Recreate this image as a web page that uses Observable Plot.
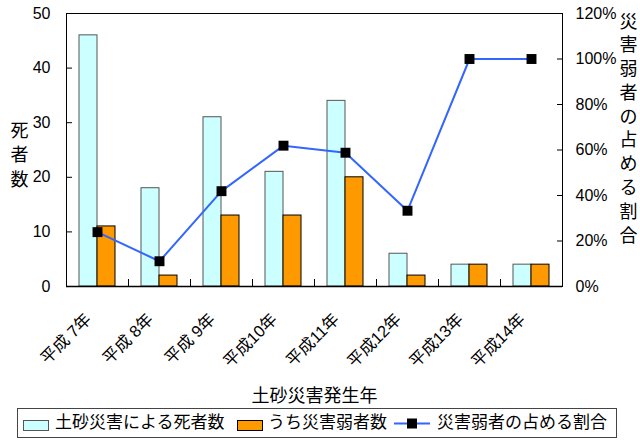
<!DOCTYPE html>
<html>
<head>
<meta charset="utf-8">
<script src="https://cdn.jsdelivr.net/npm/d3@7"></script>
<script src="https://cdn.jsdelivr.net/npm/@observablehq/plot@0.6"></script>
<style>
  html, body { margin: 0; padding: 0; background: #fff; }
  #wrap { position: relative; width: 640px; height: 441px; overflow: hidden; }
  #legend { position: absolute; left: 17px; top: 408px; width: 598px; height: 28px; border: 1px solid #444;
    font-family: "Liberation Sans", "Noto Sans CJK JP", sans-serif; font-size: 17px; color: #000; }
  #legend .it { position: absolute; top: 0; height: 28px; line-height: 28px; white-space: nowrap; }
  #legend .sw { position: absolute; top: 11px; width: 24px; height: 9px; }
</style>
</head>
<body>
<div id="wrap"></div>
<script>
// --- data ---
const years = ["平成 7年", "平成 8年", "平成 9年", "平成10年", "平成11年", "平成12年", "平成13年", "平成14年"];
const deaths = [46, 18, 31, 21, 34, 6, 4, 4];          // 土砂災害による死者数
const vulnerable = [11, 2, 13, 13, 20, 2, 4, 4];       // うち災害弱者数
const ratioPct = [23.9, 11.1, 41.9, 61.9, 58.8, 33.3, 100, 100]; // 災害弱者の占める割合 (%)
const leftTicks = [0, 10, 20, 30, 40, 50];
const rightTicks = [0, 20, 40, 60, 80, 100, 120];
const seriesNames = ["土砂災害による死者数", "うち災害弱者数", "災害弱者の占める割合"];

const yMax = 50, rMax = 120;
const toY = p => p * yMax / rMax;

const rows = years.map((y, i) => ({year: y, deaths: deaths[i], vul: vulnerable[i], ratio: ratioPct[i]}));

const cyan = "#ccffff", orange = "#ff9900", blue = "#3366ff";
const font = '"Liberation Sans", "Noto Sans CJK JP", sans-serif';

const chart = Plot.plot({
  width: 640,
  height: 404,
  marginTop: 13,
  marginBottom: 118,
  marginLeft: 66,
  marginRight: 78,
  style: {fontFamily: font, fontSize: "16px", color: "#000", background: "#fff", overflow: "visible"},
  x: {domain: years, padding: 0, axis: null},
  y: {domain: [0, yMax]},
  marks: [
    Plot.barY(rows, {x: "year", y: "deaths", fill: cyan, stroke: "#555", strokeWidth: 1, insetLeft: 13, insetRight: 31}),
    Plot.barY(rows, {x: "year", y: "vul", fill: orange, stroke: "#000", strokeWidth: 1, insetLeft: 31, insetRight: 13}),
    Plot.frame({stroke: "#000", strokeWidth: 1}),
    Plot.ruleY([0], {stroke: "#000", strokeWidth: 1.5}),
    // inward ticks, left axis
    Plot.tickY(leftTicks, {y: d => d, x: () => years[0], insetRight: 56, stroke: "#000"}),
    // inward ticks, right axis
    Plot.tickY(rightTicks, {y: d => toY(d), x: () => years[years.length - 1], insetLeft: 57, stroke: "#000"}),
    // inward ticks at band boundaries on bottom axis
    Plot.ruleX(years.slice(1), {x: d => d, dx: -31, insetTop: 266, stroke: "#000"}),
    Plot.axisY(leftTicks, {anchor: "left", tickSize: 0, tickPadding: 16, label: null, fontSize: 16}),
    Plot.axisY(rightTicks.map(toY), {anchor: "right", tickSize: 0, tickPadding: 13, label: null, fontSize: 16,
      tickFormat: d => Math.round(d * rMax / yMax) + "%"}),
    Plot.line(rows, {x: "year", y: d => toY(d.ratio), stroke: blue, strokeWidth: 2}),
    Plot.dot(rows, {x: "year", y: d => toY(d.ratio), symbol: "square", r: 5.6, fill: "#000", stroke: "none"}),
    // category labels
    Plot.text(rows, {x: "year", text: "year", frameAnchor: "bottom", lineAnchor: "middle", rotate: -45, textAnchor: "end",
      dx: -9, dy: 30, fontSize: 16.5, fill: "#000"}),
    // x axis title
    Plot.text(["土砂災害発生年"], {frameAnchor: "bottom", lineAnchor: "middle", dy: 109.5, fontSize: 18, fill: "#000"}),
    // left axis title (vertical)
    Plot.text(["死\n者\n数"], {frameAnchor: "left", lineAnchor: "middle", dx: -47, dy: 3.5, fontSize: 18, lineHeight: 1.36, textAnchor: "middle", fill: "#000"}),
    // right axis title (vertical)
    Plot.text(["災\n害\n弱\n者\nの\n占\nめ\nる\n割\n合"], {frameAnchor: "right", lineAnchor: "middle", dx: 66, dy: -23, fontSize: 18, lineHeight: 1.32, textAnchor: "middle", fill: "#000"})
  ]
});

const wrap = document.getElementById("wrap");
wrap.appendChild(chart);

// legend
const legend = document.createElement("div");
legend.id = "legend";
legend.innerHTML = `
  <div class="sw" style="left:5px;background:${cyan};border:1px solid #555;"></div>
  <div class="it" style="left:37px;">${seriesNames[0]}</div>
  <div class="sw" style="left:219px;background:${orange};border:1px solid #000;"></div>
  <div class="it" style="left:250px;">${seriesNames[1]}</div>
  <svg style="position:absolute;left:376px;top:0;" width="38" height="28">
    <line x1="0" x2="36" y1="14.5" y2="14.5" stroke="${blue}" stroke-width="2"></line>
    <rect x="13" y="9.5" width="10" height="10" fill="#000"></rect>
  </svg>
  <div class="it" style="left:419px;">${seriesNames[2]}</div>
`;
wrap.appendChild(legend);
</script>
</body>
</html>
